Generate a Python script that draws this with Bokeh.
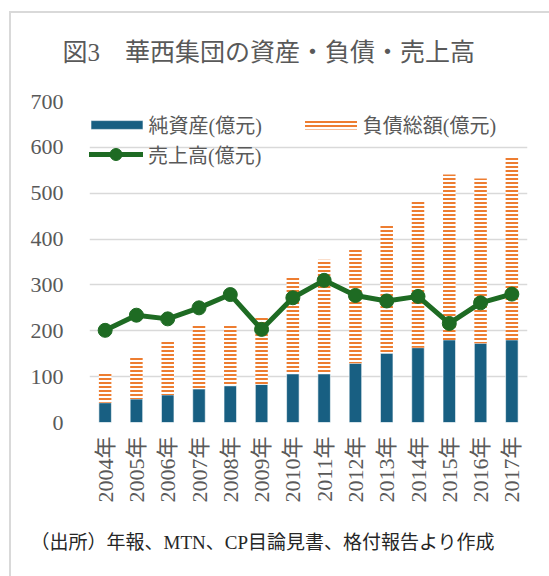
import math
from bokeh.plotting import figure
from bokeh.models import (ColumnDataSource, FactorRange, Legend, LegendItem,
                          Title, FixedTicker)
from bokeh.transform import stack
from bokeh.embed import file_html
from bokeh.resources import INLINE

# ---- data ----
years = ["2004年", "2005年", "2006年", "2007年", "2008年", "2009年", "2010年",
         "2011年", "2012年", "2013年", "2014年", "2015年", "2016年", "2017年"]
net_assets = [43, 51, 60, 73, 80, 83, 106, 106, 129, 151, 163, 180, 173, 180]
liabilities = [65, 92, 120, 140, 135, 145, 209, 249, 250, 279, 321, 361, 359, 398]
sales = [201, 234, 226, 250, 279, 203, 272, 310, 277, 265, 275, 216, 261, 280]
y_ticks = [0, 100, 200, 300, 400, 500, 600, 700]

title_text = "図3　華西集団の資産・負債・売上高"
footer_text = "（出所）年報、MTN、CP目論見書、格付報告より作成"
label_net = "純資産(億元)"
label_liab = "負債総額(億元)"
label_sales = "売上高(億元)"

BLUE = "#185F82"
ORANGE = "#ED7D31"
GREEN = "#1E6B23"
GRID = "#D9D9D9"
TXT = "#595959"
FONT = "Liberation Serif, Noto Sans CJK JP"

src = ColumnDataSource(dict(year=years, net=net_assets, liab=liabilities, sales=sales))

chart_box_css = {
    "background-color": "white",
    "background-image": "linear-gradient(#D9D9D9, #D9D9D9), linear-gradient(#D9D9D9, #D9D9D9)",
    "background-size": "2px 100%, 100% 2px",
    "background-position": "9px 11px, 9px 11px",
    "background-repeat": "no-repeat",
}

p = figure(x_range=FactorRange(*years), y_range=(0, 700),
           width=549, height=576, output_backend="svg", toolbar_location=None,
           styles=chart_box_css,
           min_border_left=89, min_border_right=22, min_border_top=101, min_border_bottom=154,
           background_fill_color="white", border_fill_alpha=0)
p.outline_line_color = None

# axes
p.yaxis.ticker = FixedTicker(ticks=y_ticks)
p.yaxis.axis_line_color = None
p.yaxis.major_tick_line_color = None
p.yaxis.minor_tick_line_color = None
p.yaxis.major_tick_out = 0
p.yaxis.major_tick_in = 0
p.yaxis.major_label_standoff = 26
p.yaxis.major_label_text_font = FONT
p.yaxis.major_label_text_font_size = "22px"
p.yaxis.major_label_text_color = TXT

p.xaxis.axis_line_color = None
p.xaxis.major_tick_line_color = None
p.xaxis.major_tick_out = 0
p.xaxis.major_tick_in = 0
p.xaxis.major_label_orientation = math.pi / 2
p.xaxis.major_label_standoff = 14
p.xaxis.major_label_text_font = FONT
p.xaxis.major_label_text_font_size = "22px"
p.xaxis.major_label_text_color = TXT

p.xgrid.grid_line_color = None
p.ygrid.grid_line_color = GRID
p.ygrid.grid_line_width = 1.5

# bars
r_net = p.vbar(x="year", bottom=0, top=stack("net"), width=0.4, source=src,
               fill_color=BLUE, line_color="white", line_width=0.6)
r_liab = p.vbar(x="year", bottom=stack("net"), top=stack("net", "liab"), width=0.4, source=src,
                fill_color="white", line_color=None,
                hatch_pattern="horizontal_line", hatch_color=ORANGE,
                hatch_weight=2, hatch_scale=4)

# sales line
r_line = p.line(x="year", y="sales", source=src, line_color=GREEN, line_width=5)
r_pts = p.scatter(x="year", y="sales", source=src, size=14, fill_color=GREEN, line_color=GREEN)

# legends
leg1 = Legend(items=[LegendItem(label=label_net, renderers=[r_net]),
                     LegendItem(label=label_liab, renderers=[r_liab])],
              orientation="horizontal", location=(-5.5, 283),
              glyph_width=65, glyph_height=11, label_standoff=0, spacing=36,
              padding=0, margin=0, background_fill_alpha=0, border_line_color=None,
              label_text_font=FONT, label_text_font_size="20px", label_text_color=TXT)
leg2 = Legend(items=[LegendItem(label=label_sales, renderers=[r_line, r_pts])],
              orientation="horizontal", location=(-1, 253),
              glyph_width=55, glyph_height=30, label_standoff=5,
              padding=0, margin=0, background_fill_alpha=0, border_line_color=None,
              label_text_font=FONT, label_text_font_size="20px", label_text_color=TXT)
p.add_layout(leg1)
p.add_layout(leg2)

# title and footer
p.add_layout(Title(text=title_text, align="left", offset=-27, standoff=72,
                   text_font=FONT, text_font_size="25px", text_color=TXT,
                   text_font_style="normal"), "above")
p.add_layout(Title(text=footer_text, align="left", offset=-59, standoff=48,
                   text_font=FONT, text_font_size="19px", text_color="#262626",
                   text_font_style="normal"), "below")

open("out.html", "w").write(file_html(p, INLINE))
